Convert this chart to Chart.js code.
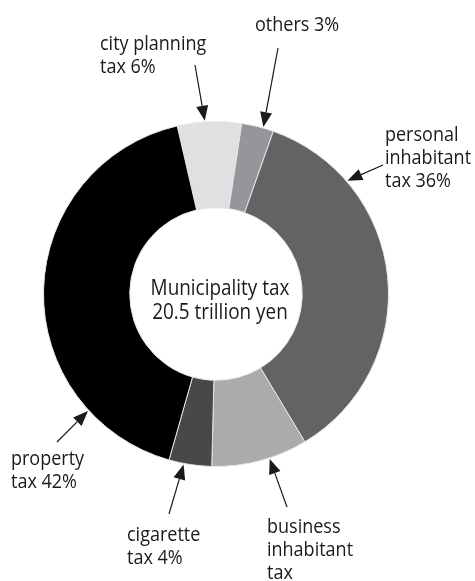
<!DOCTYPE html>
<html>
<head>
<meta charset="utf-8">
<script src="https://cdn.jsdelivr.net/npm/chart.js@4.4.1/dist/chart.umd.min.js"></script>
<style>
    body { margin: 0; background: #ffffff; }
    canvas { display: block; }
</style>
</head>
<body>
<canvas id="tax_chart" width="475" height="581"></canvas>
<script>
// slices, clockwise from the top-left edge of the ring
let taxNames = ['city planning tax', 'others', 'personal inhabitant tax', 'business inhabitant tax', 'cigarette tax', 'property tax'];
let taxShares = [6, 3, 36, 9, 4, 42];
let sliceColors = ['#e0e0e2', '#96969a', '#636366', '#ababae', '#48484b', '#000000'];

// text lines of each callout (percent added from taxShares)
let calloutLines = [
    ['city planning', 'tax'],
    ['others'],
    ['personal', 'inhabitant', 'tax'],
    ['business', 'inhabitant', 'tax'],
    ['cigarette', 'tax'],
    ['property', 'tax']
];
let centerLines = ['Municipality tax', '20.5 trillion yen'];

const FONT = '"Open Sans", "Noto Sans", sans-serif';

// where each callout sits: text origin, arrow tail, and where along the slice the arrow lands
let callouts = [
    { x: 100, y: 50, tail: [195, 65], frac: 0.43 },
    { x: 255, y: 31, tail: [278, 48], frac: 0.67 },
    { x: 385, y: 141, tail: [383, 165], frac: 0.23 },
    { x: 267, y: 533, tail: [287, 507], frac: 0.40 },
    { x: 127, y: 541, tail: [169, 514], frac: 0.65 },
    { x: 11, y: 465, tail: [57, 442], frac: 0.21 }
];

// condensed-looking text: draw at full height, squeeze horizontally
function squeezedText(ctx, text, x, y, sx) {
    ctx.save();
    ctx.translate(x, y);
    ctx.scale(sx, 1);
    ctx.fillText(text, 0, 0);
    ctx.restore();
}

function drawArrow(ctx, x1, y1, x2, y2) {
    let ang = Math.atan2(y2 - y1, x2 - x1);
    let headLen = 15, headW = 6;
    let bx = x2 - Math.cos(ang) * headLen;
    let by = y2 - Math.sin(ang) * headLen;
    ctx.beginPath();
    ctx.moveTo(x1, y1);
    ctx.lineTo(bx, by);
    ctx.stroke();
    ctx.beginPath();
    ctx.moveTo(x2, y2);
    ctx.lineTo(bx + Math.sin(ang) * headW, by - Math.cos(ang) * headW);
    ctx.lineTo(bx - Math.sin(ang) * headW, by + Math.cos(ang) * headW);
    ctx.closePath();
    ctx.fill();
}

const calloutPlugin = {
    id: 'callouts',
    afterDraw(chart) {
        let ctx = chart.ctx;
        let arcs = chart.getDatasetMeta(0).data;
        ctx.save();
        ctx.fillStyle = '#1a1a1a';
        ctx.strokeStyle = '#1a1a1a';
        ctx.lineWidth = 1.2;
        ctx.textAlign = 'left';
        ctx.textBaseline = 'alphabetic';
        ctx.font = '20px ' + FONT;

        callouts.forEach(function (c, i) {
            let lines = calloutLines[i].slice();
            if (i !== 3) {
                lines[lines.length - 1] += ' ' + taxShares[i] + '%';
            }
            lines.forEach(function (t, k) {
                squeezedText(ctx, t, c.x, c.y + k * 23, 0.9);
            });

            let arc = arcs[i];
            let a = arc.startAngle + c.frac * (arc.endAngle - arc.startAngle);
            let r = arc.outerRadius + 1;
            drawArrow(ctx, c.tail[0], c.tail[1], arc.x + Math.cos(a) * r, arc.y + Math.sin(a) * r);
        });

        // title in the hole
        let cx = arcs[0].x, cy = arcs[0].y;
        ctx.textAlign = 'center';
        ctx.font = '22px ' + FONT;
        squeezedText(ctx, centerLines[0], cx + 4, cy + 1, 0.86);
        squeezedText(ctx, centerLines[1], cx + 4, cy + 25, 0.86);
        ctx.restore();
    }
};

let ctx = document.getElementById('tax_chart').getContext('2d');

new Chart(ctx, {
    type: 'doughnut',
    data: {
        labels: taxNames,
        datasets: [{
            data: taxShares,
            backgroundColor: sliceColors,
            borderColor: '#e6e6e6',
            borderWidth: 1
        }]
    },
    options: {
        responsive: false,
        maintainAspectRatio: false,
        animation: false,
        rotation: -13,
        cutout: '50%',
        layout: {
            padding: { left: 43, right: 86, top: 121, bottom: 114 }
        },
        plugins: {
            legend: { display: false },
            tooltip: { enabled: false }
        }
    },
    plugins: [calloutPlugin]
});
</script>
</body>
</html>
